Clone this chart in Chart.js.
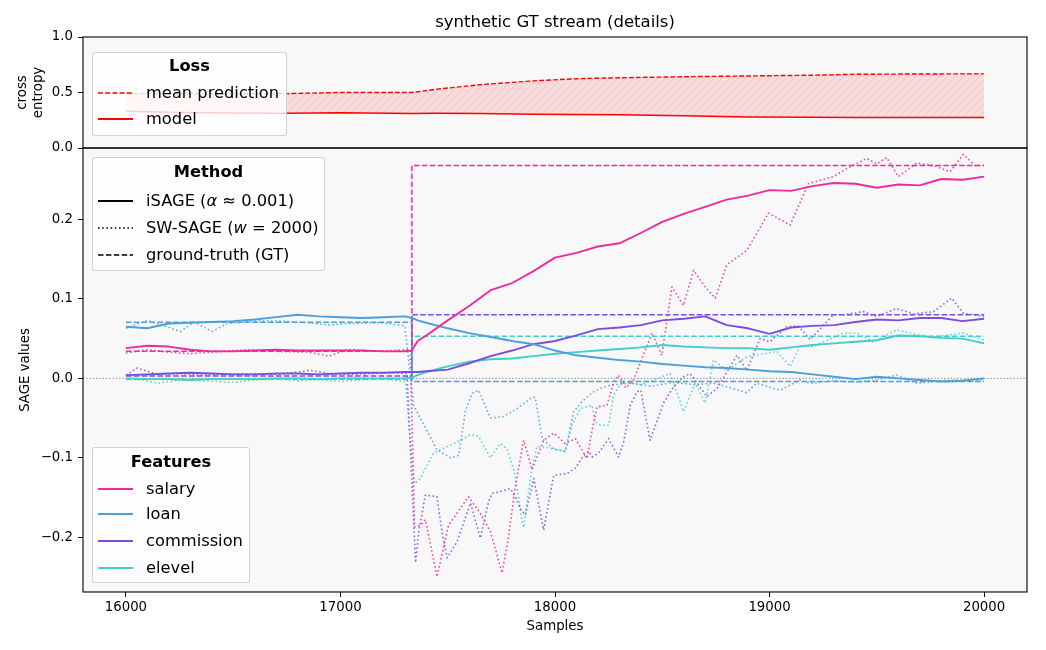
<!DOCTYPE html>
<html><head><meta charset="utf-8">
<script src="https://cdn.jsdelivr.net/npm/chart.js@4.4.1/dist/chart.umd.min.js"></script>
<style>
html,body{margin:0;padding:0;background:#fff;}
#wrap{position:relative;width:1046px;height:650px;overflow:hidden;}
#c{position:absolute;left:0;top:0;}
#title{position:absolute;left:83px;width:944px;top:11px;height:22px;line-height:22px;text-align:center;font-family:'DejaVu Sans',sans-serif;font-size:16.5px;color:#000;white-space:nowrap;}
.leg{position:absolute;box-sizing:border-box;background:rgba(255,255,255,0.8);border:1px solid rgba(204,204,204,0.9);border-radius:3px;font-family:'DejaVu Sans',sans-serif;font-size:16.3px;color:#000;}
.leg .t{position:absolute;left:0;right:0;height:20px;line-height:20px;text-align:center;font-weight:bold;}
.leg .r{position:absolute;left:4px;height:20px;line-height:20px;white-space:nowrap;}
.leg .r svg{position:absolute;left:0;top:0;}
.leg .r span{position:absolute;left:49px;top:0;}
</style></head>
<body>
<div id="wrap">
<canvas id="c" width="1046" height="650"></canvas>
<div id="title">synthetic GT stream (details)</div>

<div class="leg" style="left:92px;top:52px;width:195px;height:84px;">
  <div class="t" style="top:3px;">Loss</div>
  <div class="r" style="top:30px;"><svg width="40" height="20"><line x1="1" y1="10" x2="36" y2="10" stroke="#ff0000" stroke-width="1.6" stroke-dasharray="5 2.2"/></svg><span>mean prediction</span></div>
  <div class="r" style="top:56px;"><svg width="40" height="20"><line x1="1" y1="10" x2="36" y2="10" stroke="#ff0000" stroke-width="1.8"/></svg><span>model</span></div>
</div>

<div class="leg" style="left:92px;top:157px;width:233px;height:114px;">
  <div class="t" style="top:4px;">Method</div>
  <div class="r" style="top:33px;"><svg width="40" height="20"><line x1="1" y1="10" x2="36" y2="10" stroke="#000" stroke-width="1.8"/></svg><span>iSAGE (<i>α</i> ≈ 0.001)</span></div>
  <div class="r" style="top:60px;"><svg width="40" height="20"><line x1="1" y1="10" x2="36" y2="10" stroke="#000" stroke-width="1.6" stroke-dasharray="1.6 2.6"/></svg><span>SW-SAGE (<i>w</i> = 2000)</span></div>
  <div class="r" style="top:87px;"><svg width="40" height="20"><line x1="1" y1="10" x2="36" y2="10" stroke="#000" stroke-width="1.7" stroke-dasharray="5.5 2.4"/></svg><span>ground-truth (GT)</span></div>
</div>

<div class="leg" style="left:92px;top:447px;width:158px;height:136px;">
  <div class="t" style="top:4px;">Features</div>
  <div class="r" style="top:31px;"><svg width="40" height="20"><line x1="1" y1="10" x2="36" y2="10" stroke="#ee2a9f" stroke-width="2"/></svg><span>salary</span></div>
  <div class="r" style="top:56px;"><svg width="40" height="20"><line x1="1" y1="10" x2="36" y2="10" stroke="#4aa0dc" stroke-width="2"/></svg><span>loan</span></div>
  <div class="r" style="top:83px;"><svg width="40" height="20"><line x1="1" y1="10" x2="36" y2="10" stroke="#7b4ce0" stroke-width="2"/></svg><span>commission</span></div>
  <div class="r" style="top:110px;"><svg width="40" height="20"><line x1="1" y1="10" x2="36" y2="10" stroke="#3fcfca" stroke-width="2"/></svg><span>elevel</span></div>
</div>
</div>

<script>
// ---------------- DATA ----------------
const xTicks = [16000, 17000, 18000, 19000, 20000];
const lossTicks = [0.0, 0.5, 1.0];
const sageTicks = [-0.2, -0.1, 0.0, 0.1, 0.2];
const xMin = 15800, xMax = 20200;

// Loss panel
const lossSamples = [16000,16250,16500,16750,17000,17333,17450,17650,17900,18100,18300,18600,18900,19200,19400,19700,20000];
const lossMeanPrediction = [0.49,0.49,0.49,0.49,0.50,0.50,0.53,0.57,0.605,0.624,0.633,0.642,0.649,0.656,0.664,0.667,0.668];
const lossModel = [0.33,0.32,0.315,0.312,0.318,0.31,0.312,0.31,0.305,0.302,0.30,0.29,0.279,0.277,0.275,0.274,0.274];

// Ground truth (change point at ~17333)
const gtSamples = [16000, 17333, 17333, 20000];
const salaryGT = [0.034, 0.034, 0.268, 0.268];
const loanGT = [0.0705, 0.0705, -0.004, -0.004];
const commissionGT = [0.003, 0.003, 0.080, 0.080];
const elevelGT = [-0.001, -0.001, 0.053, 0.053];

// iSAGE (incremental) estimates
const isageSamples = [16000,16100,16200,16300,16400,16500,16600,16700,16800,16900,17000,17100,17200,17300,17333,17360,17400,17500,17600,17700,17800,17900,18000,18100,18200,18300,18400,18500,18600,18700,18800,18900,19000,19100,19200,19300,19400,19500,19600,19700,19800,19900,20000];
const salaryISAGE = [0.038,0.041,0.040,0.036,0.034,0.034,0.035,0.036,0.035,0.035,0.035,0.035,0.034,0.034,0.035,0.047,0.054,0.073,0.091,0.111,0.120,0.135,0.152,0.158,0.166,0.170,0.183,0.197,0.207,0.216,0.225,0.230,0.237,0.236,0.242,0.246,0.245,0.240,0.244,0.243,0.251,0.250,0.254];
const loanISAGE = [0.065,0.063,0.069,0.070,0.071,0.072,0.074,0.077,0.080,0.078,0.077,0.076,0.077,0.078,0.076,0.073,0.070,0.063,0.057,0.052,0.047,0.043,0.035,0.029,0.026,0.023,0.021,0.018,0.016,0.014,0.013,0.011,0.009,0.008,0.005,0.002,-0.001,0.002,0.000,-0.002,-0.004,-0.003,0.000];
const commissionISAGE = [0.004,0.005,0.006,0.007,0.006,0.005,0.005,0.006,0.006,0.005,0.006,0.007,0.007,0.008,0.008,0.008,0.009,0.011,0.019,0.028,0.035,0.043,0.047,0.054,0.062,0.064,0.067,0.073,0.075,0.078,0.067,0.063,0.056,0.064,0.066,0.067,0.071,0.074,0.073,0.076,0.076,0.072,0.075];
const elevelISAGE = [0.000,-0.001,-0.001,-0.002,-0.001,-0.001,-0.001,0.000,0.000,-0.001,0.000,0.000,0.000,0.000,0.001,0.004,0.008,0.015,0.021,0.024,0.025,0.028,0.031,0.033,0.035,0.037,0.039,0.042,0.040,0.039,0.038,0.038,0.036,0.039,0.042,0.044,0.046,0.048,0.054,0.053,0.051,0.050,0.044];

// SW-SAGE (sliding window) estimates
const salarySWx = [16000,16100,16200,16300,16450,16565,16700,16850,16946,17031,17186,17300,17326,17345,17372,17396,17450,17504,17597,17652,17699,17753,17784,17815,17854,17893,17947,17994,18048,18095,18149,18173,18196,18242,18273,18296,18330,18366,18452,18498,18545,18599,18646,18700,18747,18801,18894,18995,19096,19181,19298,19360,19453,19500,19546,19600,19686,19764,19841,19903,19958,20000];
const salarySW = [0.032,0.036,0.033,0.031,0.034,0.036,0.034,0.033,0.028,0.036,0.034,0.036,0.036,-0.187,-0.185,-0.178,-0.250,-0.185,-0.149,-0.170,-0.193,-0.245,-0.199,-0.136,-0.078,-0.115,-0.078,-0.069,-0.082,-0.076,-0.101,-0.065,-0.036,-0.034,-0.006,0.004,-0.012,-0.002,0.057,0.029,0.115,0.092,0.136,0.115,0.101,0.143,0.161,0.208,0.193,0.245,0.254,0.264,0.277,0.270,0.278,0.254,0.271,0.268,0.260,0.282,0.268,0.268];

const loanSWx = [16000,16100,16180,16255,16317,16402,16472,16600,16720,16850,16950,17031,17186,17280,17300,17341,17372,17450,17512,17551,17582,17613,17644,17699,17761,17823,17893,17908,17940,17994,18048,18087,18126,18180,18226,18273,18350,18450,18550,18650,18738,18832,18894,18940,19049,19142,19189,19300,19400,19500,19593,19686,19800,19900,20000];
const loanSW = [0.063,0.073,0.066,0.059,0.071,0.059,0.069,0.072,0.072,0.070,0.067,0.069,0.070,0.067,0.066,-0.034,-0.050,-0.090,-0.100,-0.097,-0.042,-0.019,-0.015,-0.050,-0.048,-0.038,-0.024,-0.024,-0.076,-0.089,-0.092,-0.042,-0.029,-0.017,-0.011,-0.008,-0.006,-0.010,-0.005,-0.008,-0.006,-0.013,-0.018,-0.006,-0.015,-0.002,-0.006,-0.003,-0.005,-0.002,0.004,-0.006,-0.003,-0.002,-0.002];

const commissionSWx = [16000,16053,16146,16250,16350,16450,16600,16700,16860,16950,17050,17150,17250,17310,17350,17365,17396,17450,17473,17497,17543,17606,17652,17691,17707,17792,17815,17838,17862,17901,17947,17994,18056,18095,18134,18157,18173,18203,18250,18296,18320,18351,18382,18400,18443,18506,18552,18599,18630,18708,18755,18848,18894,18956,19002,19080,19134,19189,19298,19344,19437,19500,19593,19670,19764,19849,19903,20000];
const commissionSW = [0.004,0.013,0.005,0.006,0.004,0.005,0.006,0.005,0.010,0.006,0.005,0.006,0.007,0.006,-0.232,-0.193,-0.147,-0.149,-0.193,-0.226,-0.206,-0.157,-0.201,-0.155,-0.145,-0.139,-0.149,-0.164,-0.172,-0.126,-0.191,-0.122,-0.120,-0.113,-0.097,-0.092,-0.099,-0.094,-0.076,-0.099,-0.080,-0.034,-0.017,-0.015,-0.078,-0.031,-0.011,0.002,0.006,-0.023,-0.013,0.029,0.010,0.050,0.046,0.065,0.066,0.049,0.080,0.080,0.084,0.078,0.088,0.081,0.084,0.101,0.082,0.078];

const elevelSWx = [16000,16080,16146,16250,16350,16503,16600,16700,16800,16900,17000,17100,17200,17303,17326,17345,17372,17434,17512,17559,17606,17644,17699,17746,17777,17815,17846,17854,17870,17893,17916,17963,18048,18079,18118,18172,18188,18211,18250,18273,18312,18400,18480,18537,18599,18653,18700,18739,18801,18894,19034,19096,19142,19204,19344,19406,19484,19593,19686,19763,19903,20000];
const elevelSW = [-0.001,-0.002,-0.006,-0.002,-0.003,-0.005,-0.002,-0.001,-0.003,-0.002,-0.004,-0.002,-0.001,-0.004,-0.080,-0.133,-0.126,-0.094,-0.084,-0.078,-0.071,-0.073,-0.100,-0.082,-0.089,-0.122,-0.180,-0.188,-0.155,-0.113,-0.086,-0.087,-0.092,-0.059,-0.038,-0.034,-0.055,-0.059,-0.059,-0.021,-0.004,-0.008,0.000,0.006,-0.042,-0.006,-0.031,0.023,0.010,0.027,0.034,0.015,0.040,0.040,0.057,0.057,0.046,0.061,0.055,0.052,0.057,0.048];

// ---------------- STYLE ----------------
const F = "'DejaVu Sans', sans-serif";
const colors = {salary:'#ee2a9f', loan:'#4aa0dc', commission:'#7b4ce0', elevel:'#3fcfca'};
const swColors = {salary:'rgba(238,42,159,0.85)', loan:'rgba(74,160,220,0.85)', commission:'rgba(123,76,224,0.85)', elevel:'rgba(63,207,202,0.85)'};

function pts(xs, ys){ return xs.map((x,i)=>({x:x, y:ys[i]})); }

// hatch pattern for loss gap
function hatch(){
  const p = document.createElement('canvas'); p.width = 8; p.height = 8;
  const g = p.getContext('2d');
  g.fillStyle = 'rgba(255,0,0,0.11)'; g.fillRect(0,0,8,8);
  g.strokeStyle = 'rgba(230,0,0,0.10)'; g.lineWidth = 1;
  g.beginPath(); g.moveTo(0,8); g.lineTo(8,0); g.moveTo(-1,1); g.lineTo(1,-1); g.moveTo(7,9); g.lineTo(9,7); g.stroke();
  return g.createPattern(p,'repeat');
}

const base = {pointRadius:0, pointHoverRadius:0, tension:0, fill:false, borderJoinStyle:'round'};
const datasets = [
  Object.assign({}, base, {label:'mean prediction', yAxisID:'yL', data:pts(lossSamples, lossMeanPrediction), borderColor:'#ff0000', borderWidth:1.4, borderDash:[4.8,2.1], order:1}),
  Object.assign({}, base, {label:'model', yAxisID:'yL', data:pts(lossSamples, lossModel), borderColor:'#ff0000', borderWidth:1.5, fill:'-1', backgroundColor:hatch(), order:1}),
  Object.assign({}, base, {label:'zero', yAxisID:'yS', data:pts([xMin,xMax],[0,0]), borderColor:'rgba(110,110,110,0.9)', borderWidth:1, borderDash:[1.2,2.1], order:9})
];
const feats = [
  ['salary', salaryGT, salaryISAGE, salarySWx, salarySW],
  ['loan', loanGT, loanISAGE, loanSWx, loanSW],
  ['commission', commissionGT, commissionISAGE, commissionSWx, commissionSW],
  ['elevel', elevelGT, elevelISAGE, elevelSWx, elevelSW]
];
feats.forEach(([name, gt, is, swx, sw]) => {
  datasets.push(Object.assign({}, base, {label:name+' GT', yAxisID:'yS', data:pts(gtSamples, gt), borderColor:colors[name], borderWidth:1.5, borderDash:[5.5,2.4], order:5}));
  datasets.push(Object.assign({}, base, {label:name+' SW', yAxisID:'yS', data:pts(swx, sw), borderColor:swColors[name], borderWidth:1.6, borderDash:[1.6,2.5], order:6}));
  datasets.push(Object.assign({}, base, {label:name+' iSAGE', yAxisID:'yS', data:pts(isageSamples, is), borderColor:colors[name], borderWidth:1.9, order:2}));
});

const panelPlugin = {
  id:'panels',
  beforeDraw(chart){
    const c = chart.ctx, x = chart.scales.x;
    c.save(); c.fillStyle = '#f8f8f8';
    ['yL','yS'].forEach(id => { const s = chart.scales[id]; c.fillRect(x.left, s.top, x.right - x.left, s.bottom - s.top); });
    c.restore();
  },
  afterDatasetsDraw(chart){
    const c = chart.ctx, x = chart.scales.x;
    c.save(); c.strokeStyle = '#000'; c.lineWidth = 1.1;
    ['yL','yS'].forEach(id => { const s = chart.scales[id]; c.strokeRect(x.left, s.top, x.right - x.left, s.bottom - s.top); });
    c.restore();
  }
};

const tickFont = {family:F, size:13.3};
const gridOpt = {display:true, drawOnChartArea:false, drawTicks:true, tickLength:5, color:'#000', lineWidth:1};

new Chart(document.getElementById('c'), {
  type:'line',
  data:{datasets:datasets},
  plugins:[panelPlugin],
  options:{
    responsive:false, animation:false, events:[],
    layout:{padding:{left:0, right:19, top:37, bottom:0}},
    plugins:{
      legend:{display:false}, tooltip:{enabled:false}, title:{display:false},
      filler:{propagate:false}
    },
    scales:{
      x:{type:'linear', position:'bottom', min:xMin, max:xMax,
        afterBuildTicks:s=>{ s.ticks = xTicks.map(v=>({value:v})); },
        afterFit:s=>{ s.height = 58; },
        ticks:{callback:v=>String(v), font:tickFont, color:'#000', padding:3, maxRotation:0, autoSkip:false},
        grid:gridOpt, border:{display:false},
        title:{display:true, text:'Samples', color:'#000', font:{family:F, size:13.3, lineHeight:1.2}, padding:{top:0, bottom:15}}
      },
      yS:{type:'linear', position:'left', stack:'panels', stackWeight:444, min:-0.269, max:0.290,
        afterBuildTicks:s=>{ s.ticks = sageTicks.map(v=>({value:v})); },
        afterFit:s=>{ s.width = 83; },
        ticks:{callback:v=>(v < -1e-9 ? '\u2212' : '') + Math.abs(v).toFixed(1), font:tickFont, color:'#000', padding:5, autoSkip:false},
        grid:gridOpt, border:{display:false},
        title:{display:true, text:'SAGE values', color:'#000', font:{family:F, size:13.3, lineHeight:1.2}, padding:{top:18, bottom:0}}
      },
      yL:{type:'linear', position:'left', stack:'panels', stackWeight:111, min:0, max:1,
        afterBuildTicks:s=>{ s.ticks = lossTicks.map(v=>({value:v})); },
        afterFit:s=>{ s.width = 83; },
        ticks:{callback:v=>v.toFixed(1), font:tickFont, color:'#000', padding:5, autoSkip:false},
        grid:gridOpt, border:{display:false},
        title:{display:true, text:['cross','entropy'], color:'#000', font:{family:F, size:13.3, lineHeight:1.2}, padding:{top:15, bottom:0}}
      }
    }
  }
});
</script>
</body></html>
